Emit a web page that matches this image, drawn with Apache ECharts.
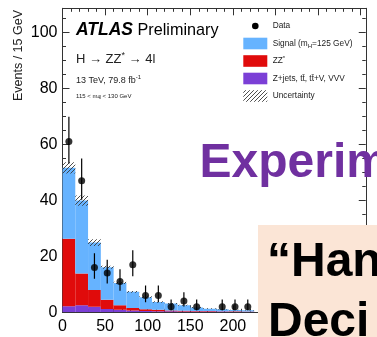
<!DOCTYPE html>
<html><head><meta charset="utf-8">
<script src="https://cdn.jsdelivr.net/npm/echarts@6/dist/echarts.min.js"></script>
<style>html,body{margin:0;padding:0;background:#fff;overflow:hidden}#c{width:377px;height:337px}</style>
</head><body><div id="c"></div>
<script>
// ---- data (15 GeV bins) ----
const binWidth = 15;
const binStarts = [0,15,30,45,60,75,90,105,120,135,150,165,180,195,210];
const zjets  = [2.2,2.5,2.0,1.2,0.9,0.6,0.5,0.4,0.35,0.3,0.3,0.25,0.25,0.2,0.2];
const zz     = [24.1,11.4,6.0,3.3,1.6,0.9,0.6,0.5,0.3,0.25,0.2,0.2,0.15,0.15,0.1];
const signal = [25.3,26.0,16.9,11.6,8.0,5.8,4.3,2.8,2.45,1.95,1.2,0.85,0.7,0.45,0.4];
const uncertainty = [2.0,1.8,1.2,0.5,0.4,0.35,0.3,0.25,0.2,0.2,0.15,0.15,0.1,0.1,0.1];
const dataCounts = [61,47,16,14,11,17,6,6,2,4,2,0,2,2,2];
const dataLow    = [53.2,40.2,12.0,10.3,7.7,12.9,3.6,3.6,0.7,2.1,0.7,0,0.7,0.7,0.7];
const dataHigh   = [69.9,54.9,21.1,18.8,15.4,22.2,9.6,9.6,4.6,7.2,4.6,0,4.6,4.6,4.6];
const xTickStep = 50, yTickStep = 20;
const legendLabels = ['Data','{a|Signal (m}{s|H}{a|=125 GeV)}','{a|ZZ}{p|*}','Z+jets, tt\u0304, tt\u0304+V, VVV','Uncertainty'];
const colors = {signal:'#66b3ff', zz:'#e00b0b', zjets:'#7b3fd6', data:'#000'};

const FONT = '"Liberation Sans", Arial, Helvetica, sans-serif';

// hatch pattern
const hc = document.createElement('canvas'); hc.width = 4; hc.height = 4;
const hx = hc.getContext('2d');
hx.strokeStyle = '#3a3a3a'; hx.lineWidth = 0.9;
hx.beginPath();
hx.moveTo(-1,5); hx.lineTo(5,-1);
hx.moveTo(-1,1); hx.lineTo(1,-1);
hx.moveTo(3,5); hx.lineTo(5,3);
hx.stroke();
const hatch = {image: hc, repeat: 'repeat'};

// stacked blocks
const stackZjets = [], stackZZ = [], stackSig = [], uncBand = [], pts = [], errs = [];
binStarts.forEach((x0,i) => {
  const x1 = x0 + binWidth;
  const a = zjets[i], b = a + zz[i], c = b + signal[i];
  stackZjets.push([x0,x1,0,a]);
  stackZZ.push([x0,x1,a,b]);
  stackSig.push([x0,x1,b,c]);
  uncBand.push([x0,x1,c-uncertainty[i],c+uncertainty[i]]);
  if (dataCounts[i] > 0) {
    pts.push([x0+binWidth/2, dataCounts[i]]);
    errs.push([x0+binWidth/2, dataLow[i], dataHigh[i]]);
  }
});

function rectRender(fill){
  return function(params, api){
    const p0 = api.coord([api.value(0), api.value(2)]);
    const p1 = api.coord([api.value(1), api.value(3)]);
    return {type:'rect', shape:{x:p0[0], y:p1[1], width:p1[0]-p0[0], height:p0[1]-p1[1]},
      style:{fill: fill}};
  };
}
function blockSeries(name, data, fill){
  return {name, type:'custom', coordinateSystem:'cartesian2d', clip:true,
    renderItem: rectRender(fill), data, encode:{x:[0,1], y:[2,3]}, animation:false, silent:true};
}

function axisStyle(split){
  return {
    axisLine:{show:true, onZero:false, lineStyle:{color:'#333', width:1}},
    axisTick:{show:true, inside:true, length:7, lineStyle:{color:'#333', width:1}},
    minorTick:{show:true, splitNumber:split, length:3.5, lineStyle:{color:'#333', width:1}},
    splitLine:{show:false}
  };
}

const chart = echarts.init(document.getElementById('c'), null, {renderer:'canvas'});
const legendY = [26, 43.5, 61, 78.5, 96];
const legendEls = [];
legendEls.push({type:'circle', shape:{cx:255.3, cy:legendY[0], r:3.3}, style:{fill:'#000'}});
[colors.signal, colors.zz, colors.zjets].forEach((col,k)=>{
  legendEls.push({type:'rect', shape:{x:243.3, y:legendY[k+1]-5.8, width:24, height:11.6}, style:{fill:col}});
});
legendEls.push({type:'rect', shape:{x:243.3, y:legendY[4]-5.8, width:24, height:11.6}, style:{fill:hatch}});
legendLabels.forEach((t,k)=>{
  legendEls.push({type:'text', x:272.7, y:legendY[k], style:{text:t, fill:'#222', fontSize:8.3, fontFamily:FONT,
    verticalAlign:'middle', align:'left',
    rich:{a:{fontSize:8.3, fontFamily:FONT, fill:'#222', lineHeight:11},
          s:{fontSize:6, fontFamily:FONT, fill:'#222', lineHeight:6, verticalAlign:'bottom'},
          p:{fontSize:6, fontFamily:FONT, fill:'#222', lineHeight:6, verticalAlign:'top'}}}});
});

const textEls = [
  {type:'text', x:76, y:30.5, style:{text:'{b|ATLAS}{r| Preliminary}', verticalAlign:'middle', align:'left',
    rich:{b:{fontSize:17.5, fontWeight:'bold', fontStyle:'italic', fontFamily:FONT, fill:'#000'},
          r:{fontSize:16.2, fontFamily:FONT, fill:'#000'}}}},
  {type:'text', x:76, y:59, style:{text:'{a|H \u2192 ZZ}{p|*}{a| \u2192 4l}', verticalAlign:'middle', align:'left',
    rich:{a:{fontSize:13, fontFamily:FONT, fill:'#222', lineHeight:16},
          p:{fontSize:9, fontFamily:FONT, fill:'#222', lineHeight:9, verticalAlign:'top'}}}},
  {type:'text', x:76, y:80.5, style:{text:'{a|13 TeV, 79.8 fb}{p|-1}', verticalAlign:'middle', align:'left',
    rich:{a:{fontSize:9, fontFamily:FONT, fill:'#222', lineHeight:12},
          p:{fontSize:6, fontFamily:FONT, fill:'#222', lineHeight:6, verticalAlign:'top'}}}},
  {type:'text', x:76, y:96, style:{text:'{a|115 < m}{s|4l}{a| < 130 GeV}', verticalAlign:'middle', align:'left',
    rich:{a:{fontSize:6, fontFamily:FONT, fill:'#222', lineHeight:8},
          s:{fontSize:4.5, fontFamily:FONT, fill:'#222', lineHeight:4.5, verticalAlign:'bottom'}}}},
  {type:'text', x:18.5, y:10, rotation:Math.PI/2, style:{text:'Events / 15 GeV', fontSize:12.5, fontFamily:FONT,
    fill:'#222', align:'right', verticalAlign:'middle'}},
  // slide overlays
  {type:'text', x:199.5, y:164, z:100, style:{text:'Experim', fontSize:48, fontWeight:'bold', fontFamily:FONT,
    fill:'#7030a0', align:'left', verticalAlign:'middle'}},
  {type:'rect', z:100, shape:{x:258, y:225, width:125, height:120}, style:{fill:'#fbe5d6'}},
  {type:'text', x:267, y:262.5, z:101, style:{text:'\u201cHan', fontSize:48, fontWeight:'bold', fontFamily:FONT,
    fill:'#000', align:'left', verticalAlign:'middle'}},
  {type:'text', x:268, y:322.5, z:101, style:{text:'Deci', fontSize:48, fontWeight:'bold', fontFamily:FONT,
    fill:'#000', align:'left', verticalAlign:'middle'}}
];

chart.setOption({
  animation:false,
  backgroundColor:'#fff',
  grid:{left:62.5, right:-2, top:8.3, bottom:24.7, containLabel:false},
  xAxis:[
    Object.assign({type:'value', min:0, max:356, interval:xTickStep, position:'bottom',
      axisLabel:{show:true, fontSize:16, color:'#000', fontFamily:FONT, margin:6, showMaxLabel:false}},
      axisStyle(5)),
    Object.assign({type:'value', min:0, max:356, interval:xTickStep, position:'top',
      axisLabel:{show:false}}, axisStyle(5))
  ],
  yAxis:[
    Object.assign({type:'value', min:0, max:108.6, interval:yTickStep, position:'left',
      axisLabel:{show:true, fontSize:16, color:'#000', fontFamily:FONT, margin:5, showMaxLabel:false}},
      axisStyle(4)),
    Object.assign({type:'value', min:0, max:108.6, interval:yTickStep, position:'right',
      axisLabel:{show:false}}, axisStyle(4))
  ],
  series:[
    blockSeries('Z+jets', stackZjets, colors.zjets),
    blockSeries('ZZ*', stackZZ, colors.zz),
    blockSeries('Signal', stackSig, colors.signal),
    blockSeries('Uncertainty', uncBand, hatch),
    {name:'DataErr', type:'custom', coordinateSystem:'cartesian2d', clip:true, data:errs, encode:{x:0, y:[1,2]},
      renderItem:function(params, api){
        const a = api.coord([api.value(0), api.value(1)]);
        const b = api.coord([api.value(0), api.value(2)]);
        return {type:'line', shape:{x1:a[0], y1:a[1], x2:b[0], y2:b[1]}, style:{stroke:'#000', lineWidth:1.2}};
      }},
    {name:'Data', type:'scatter', data:pts, symbol:'circle', symbolSize:7, itemStyle:{color:'#000'}, z:5}
  ],
  graphic:{elements: legendEls.concat(textEls)}
});
</script></body></html>
